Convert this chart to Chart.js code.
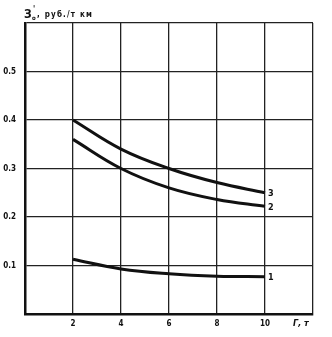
<!DOCTYPE html>
<html>
<head>
<meta charset="utf-8">
<script src="https://cdn.jsdelivr.net/npm/chart.js@4"></script>
<style>
  body { margin: 0; background: #fff; }
  #wrap { width: 332px; height: 337px; }
</style>
</head>
<body>
<div id="wrap"><canvas id="costChart" width="332" height="337"></canvas></div>
<script>
var loads = [2, 4, 6, 8, 10];
var curve1 = [0.113, 0.093, 0.083, 0.078, 0.077];
var curve2 = [0.36, 0.30, 0.26, 0.236, 0.222];
var curve3 = [0.40, 0.34, 0.30, 0.271, 0.25];
var curveNames = ['1', '2', '3'];
var xTicks = [2, 4, 6, 8, 10];
var yTicks = [0.1, 0.2, 0.3, 0.4, 0.5];

var FONT = '"DejaVu Sans Condensed", "DejaVu Sans", sans-serif';
var INK = '#111';

function points(ys) {
    return loads.map(function (x, i) { return { x: x, y: ys[i] }; });
}

// curve numbers next to the last point of each line, plus the axis captions
var captions = {
    id: 'captions',
    afterDatasetsDraw: function (chart) {
        var ctx = chart.ctx;
        var xs = chart.scales.x, ys = chart.scales.y;
        ctx.save();
        ctx.fillStyle = INK;
        ctx.font = 'bold 9px ' + FONT;
        ctx.textBaseline = 'middle';
        ctx.textAlign = 'left';
        chart.data.datasets.forEach(function (ds, i) {
            var last = ds.data[ds.data.length - 1];
            ctx.fillText(curveNames[i], xs.getPixelForValue(last.x) + 3, ys.getPixelForValue(last.y) + 1);
        });

        // y caption
        var a = chart.chartArea;
        ctx.textBaseline = 'alphabetic';
        ctx.font = 'bold 12px ' + FONT;
        ctx.fillText('З', a.left - 1, a.top - 5);
        ctx.font = 'bold 8px ' + FONT;
        ctx.fillText("'", a.left + 8, a.top - 11);
        ctx.font = 'bold 6px ' + FONT;
        ctx.fillText('о', a.left + 7, a.top - 3);
        ctx.font = 'bold 8px ' + FONT;
        ctx.letterSpacing = '1.2px';
        ctx.fillText(', руб./т км', a.left + 12, a.top - 6);
        ctx.letterSpacing = '0px';

        // x caption
        ctx.font = 'italic bold 9px ' + FONT;
        ctx.textBaseline = 'middle';
        ctx.fillText('Г, т', a.right - 20, a.bottom + 10);
        ctx.restore();
    }
};

function line(ys) {
    return {
        data: points(ys),
        borderColor: INK,
        borderWidth: 3,
        pointRadius: 0,
        fill: false,
        tension: 0.4
    };
}

new Chart(document.getElementById('costChart'), {
    type: 'line',
    data: {
        datasets: [line(curve1), line(curve2), line(curve3)]
    },
    options: {
        responsive: false,
        animation: false,
        layout: { padding: { top: 23, right: 19, left: 0, bottom: 0 } },
        plugins: { legend: { display: false }, tooltip: { enabled: false } },
        scales: {
            x: {
                type: 'linear',
                min: 0,
                max: 12,
                afterFit: function (s) { s.height = 23; },
                afterBuildTicks: function (s) {
                    s.ticks = [0, 2, 4, 6, 8, 10, 12].map(function (v) { return { value: v }; });
                },
                grid: { color: '#222', lineWidth: 1.3, drawTicks: false },
                border: { color: INK, width: 2.5 },
                ticks: {
                    padding: 5,
                    color: INK,
                    font: { family: FONT, size: 8, weight: 'bold' },
                    callback: function (v) { return xTicks.indexOf(v) >= 0 ? String(v) : ''; }
                }
            },
            y: {
                min: 0,
                max: 0.6,
                afterFit: function (s) { s.width = 25; },
                afterBuildTicks: function (s) {
                    s.ticks = [0, 0.1, 0.2, 0.3, 0.4, 0.5, 0.6].map(function (v) { return { value: v }; });
                },
                grid: { color: '#222', lineWidth: 1.3, drawTicks: false },
                border: { color: INK, width: 2.5 },
                ticks: {
                    padding: 9,
                    color: INK,
                    font: { family: FONT, size: 8, weight: 'bold' },
                    callback: function (v) {
                        var r = Math.round(v * 10) / 10;
                        return yTicks.indexOf(r) >= 0 ? r.toFixed(1) : '';
                    }
                }
            }
        }
    },
    plugins: [captions]
});
</script>
</body>
</html>
